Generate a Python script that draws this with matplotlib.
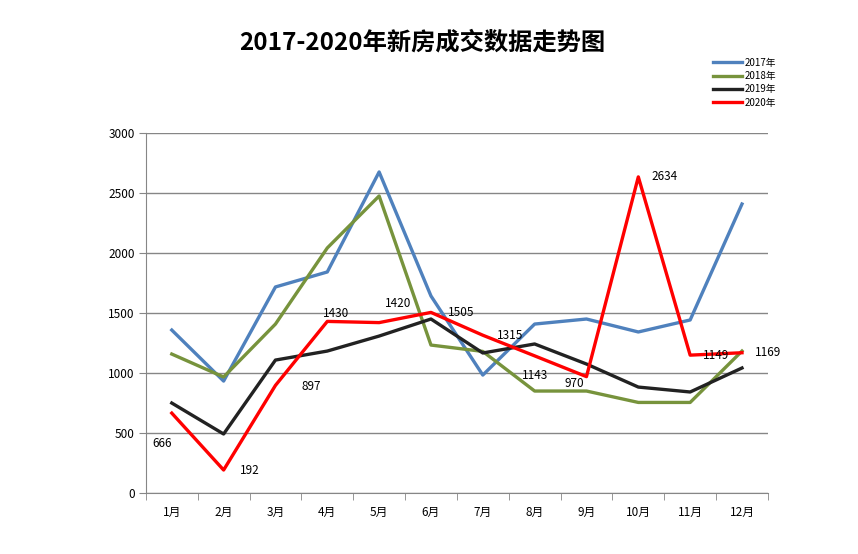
import matplotlib
matplotlib.use('Agg')
from matplotlib import pyplot as plt
from matplotlib.ticker import FixedLocator

plt.rcParams['font.family'] = ['Noto Sans CJK SC', 'DejaVu Sans']

months = ['1月', '2月', '3月', '4月', '5月', '6月', '7月', '8月', '9月', '10月', '11月', '12月']
y2017 = [1358, 933, 1717, 1842, 2675, 1642, 983, 1408, 1450, 1342, 1442, 2408]
y2018 = [1158, 967, 1408, 2042, 2475, 1233, 1180, 850, 850, 755, 755, 1183]
y2019 = [750, 492, 1108, 1183, 1308, 1450, 1167, 1242, 1075, 883, 842, 1042]
y2020 = [666, 192, 897, 1430, 1420, 1505, 1315, 1143, 970, 2634, 1149, 1169]

# label offsets (points) for the 2020 data labels
label_offsets = [(-7, -22), (19, 0), (26, -1), (6, 6), (14, 14), (22, 0),
                 (20, 0), (0, -14), (-9, -5), (19, 0), (19, 0), (19, 0)]

fig = plt.figure(figsize=(8.58, 5.54), dpi=100)
ax = fig.add_axes([0.170, 0.110, 0.725, 0.650])

x = list(range(1, 13))
ax.plot(x, y2017, color='#4F81BD', lw=2.4, label='2017年')
ax.plot(x, y2018, color='#77933C', lw=2.4, label='2018年')
ax.plot(x, y2019, color='#222222', lw=2.4, label='2019年')
ax.plot(x, y2020, color='#FF0000', lw=2.4, label='2020年')

for xi, v, off in zip(x, y2020, label_offsets):
    ax.annotate(str(v), (xi, v), xytext=off, textcoords='offset points',
                ha='center', va='center', fontsize=8.5, color='black')

ax.set_xlim(0.5, 12.5)
ax.set_ylim(0, 3000)
ax.set_yticks(range(0, 3001, 500))
ax.set_xticks(x)
ax.set_xticklabels(months, fontsize=8.5)
ax.xaxis.set_minor_locator(FixedLocator([i + 0.5 for i in range(0, 13)]))
ax.tick_params(axis='x', which='major', length=0, pad=9)
ax.tick_params(axis='x', which='minor', length=5, color='#868686', direction='out')
ax.tick_params(axis='y', length=5, color='#868686', labelsize=8.5, pad=3)
ax.grid(axis='y', color='#868686', lw=1)
ax.set_axisbelow(True)
for s in ['top', 'right']:
    ax.spines[s].set_visible(False)
for s in ['left', 'bottom']:
    ax.spines[s].set_color('#868686')

fig.text(0.492, 0.924, '2017-2020年新房成交数据走势图', ha='center', va='center',
         fontsize=17.5, fontweight='bold')

fig.legend(loc='upper left', bbox_to_anchor=(0.826, 0.903), frameon=False,
           fontsize=7, handlelength=3.0, handletextpad=0.3, labelspacing=0.35,
           borderaxespad=0)

fig.savefig('out.png', dpi=100)
